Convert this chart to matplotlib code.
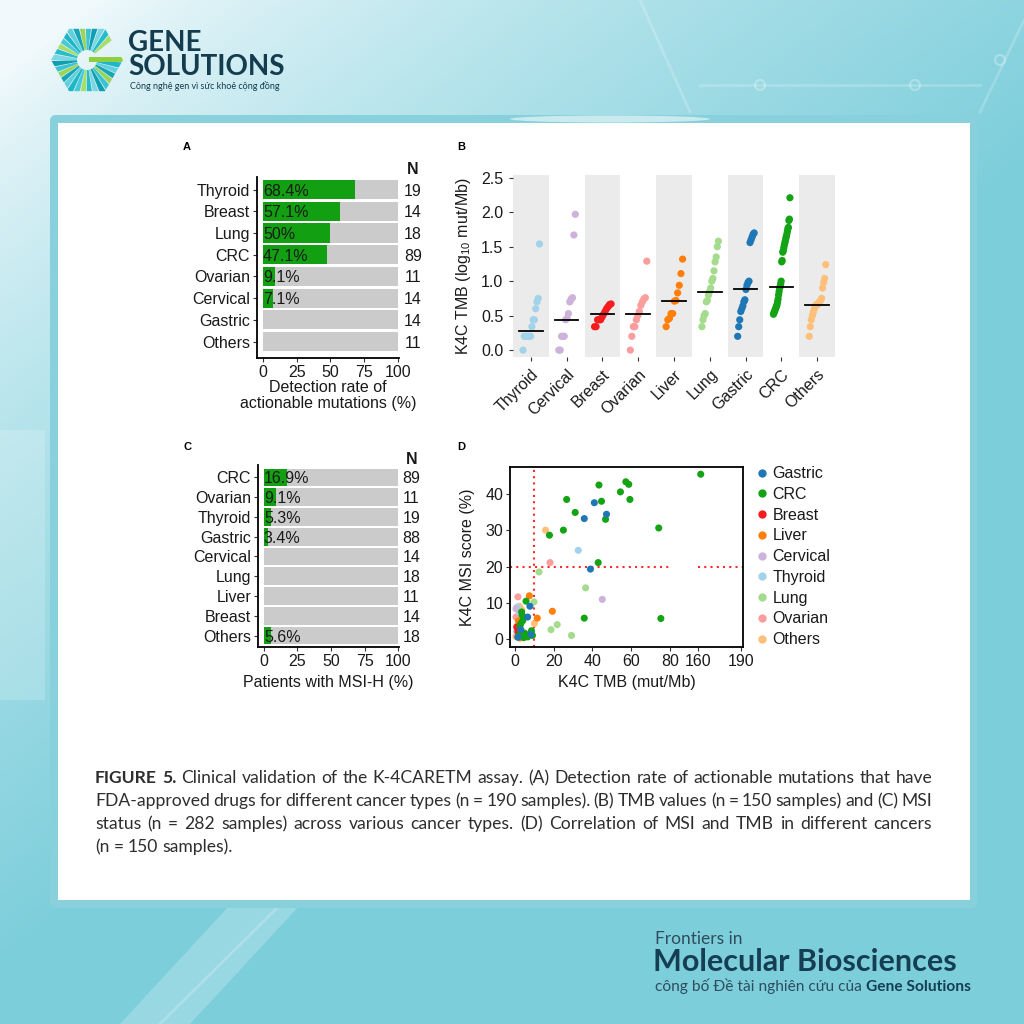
import numpy as np
import matplotlib.pyplot as plt
from matplotlib.patches import Rectangle, Polygon, Wedge, Ellipse, FancyBboxPatch
from matplotlib.lines import Line2D

plt.rcParams['font.family'] = ['Liberation Sans', 'DejaVu Sans']
plt.rcParams['mathtext.default'] = 'regular'

W = H = 1024

# ---------------- data ----------------
# A: detection rate of actionable mutations
a_types = ['Thyroid', 'Breast', 'Lung', 'CRC', 'Ovarian', 'Cervical', 'Gastric', 'Others']
a_rate = [68.4, 57.1, 50, 47.1, 9.1, 7.1, 0, 0]
a_n = [19, 14, 18, 89, 11, 14, 14, 11]

# C: patients with MSI-H
c_types = ['CRC', 'Ovarian', 'Thyroid', 'Gastric', 'Cervical', 'Lung', 'Liver', 'Breast', 'Others']
c_rate = [16.9, 9.1, 5.3, 3.4, 0, 0, 0, 0, 5.6]
c_n = [89, 11, 19, 88, 14, 18, 11, 14, 18]

# B: TMB (log10 mut/Mb) per cancer type
b_types = ['Thyroid', 'Cervical', 'Breast', 'Ovarian', 'Liver', 'Lung', 'Gastric', 'CRC', 'Others']
tmb_thyroid = [0.0, 0.2, 0.2, 0.2, 0.2, 0.2, 0.2, 0.34, 0.44, 0.44, 0.6, 0.7, 0.75, 1.54]
tmb_cervical = [0.0, 0.0, 0.2, 0.2, 0.2, 0.44, 0.46, 0.53, 0.7, 0.74, 0.76, 1.67, 1.97]
tmb_breast = [0.34, 0.34, 0.44, 0.44, 0.44, 0.48, 0.52, 0.56, 0.6, 0.63, 0.66, 0.67]
tmb_ovarian = [0.0, 0.2, 0.34, 0.34, 0.44, 0.5, 0.56, 0.65, 0.7, 0.74, 0.76, 1.29]
tmb_liver = [0.34, 0.44, 0.46, 0.53, 0.53, 0.71, 0.72, 0.83, 0.94, 1.11, 1.32]
tmb_lung = [0.34, 0.44, 0.5, 0.53, 0.7, 0.72, 0.8, 0.85, 0.9, 1.0, 1.04, 1.15, 1.28, 1.35, 1.5, 1.58]
tmb_gastric = [0.2, 0.34, 0.44, 0.56, 0.6, 0.64, 0.7, 0.73, 0.88, 0.94, 0.98, 1.0,
               1.56, 1.6, 1.64, 1.68, 1.7]
tmb_crc = [0.52, 0.54, 0.56, 0.58, 0.6, 0.62, 0.64, 0.66, 0.7, 0.74, 0.8, 0.85, 0.9, 0.92,
           0.96, 1.0, 1.28, 1.3, 1.42, 1.44, 1.48, 1.52, 1.55, 1.58, 1.62, 1.65, 1.68,
           1.72, 1.76, 1.78, 1.88, 1.9, 2.21]
tmb_others = [0.2, 0.34, 0.44, 0.5, 0.55, 0.6, 0.64, 0.66, 0.66, 0.68, 0.7, 0.72, 0.75,
              0.9, 0.98, 1.04, 1.24]
b_median = [0.27, 0.44, 0.52, 0.53, 0.71, 0.84, 0.88, 0.91, 0.65]

# D: MSI score vs TMB
gastric_tmb = [41.0, 35.8, 47.3, 39.0, 7.7, 6.5, 8.2, 1.5, 3.0]
gastric_msi = [37.7, 33.3, 34.5, 19.3, 9.0, 6.0, 1.2, 0.4, 2.5]
crc_tmb = [161.9, 57.3, 58.8, 43.4, 54.5, 26.7, 44.7, 59.4, 31.1, 46.8, 25.0, 17.8, 74.3,
           43.0, 35.8, 75.4, 5.7, 3.4, 3.7, 4.0, 2.5, 3.0, 5.0, 6.5, 8.5, 2.0, 4.5, 7.0, 3.0, 9.0]
crc_msi = [45.6, 43.5, 42.8, 42.6, 40.7, 38.6, 38.1, 38.6, 35.0, 33.1, 30.1, 28.7, 30.7,
           21.1, 5.7, 5.6, 10.4, 7.4, 6.5, 5.0, 3.5, 2.0, 1.5, 0.5, 2.2, 0.8, 0.3, 1.0, 4.2, 0.9]
breast_tmb = [0.9, 1.5, 2.2]
breast_msi = [3.2, 2.0, 1.0]
liver_tmb = [7.4, 19.3, 11.5, 1.7, 3.4, 1.4, 4.0, 2.5]
liver_msi = [11.9, 7.6, 5.7, 4.9, 1.9, 0.5, 1.2, 0.2]
cervical_tmb = [45.1, 0.5, 1.2]
cervical_msi = [10.9, 8.3, 0.8]
thyroid_tmb = [32.7, 1.2, 2.0, 0.8]
thyroid_msi = [24.5, 8.8, 7.5, 2.0]
lung_tmb = [12.4, 36.5, 18.6, 21.8, 29.2, 9.8, 3.5, 5.0]
lung_msi = [18.5, 14.1, 2.5, 3.9, 0.9, 10.2, 5.2, 1.5]
ovarian_tmb = [18.1, 1.5, 0.5, 1.0, 2.0]
ovarian_msi = [21.1, 11.6, 6.0, 3.5, 1.0]
others_tmb = [15.8, 10.0, 2.3, 3.5, 0.5]
others_msi = [30.1, 4.2, 9.0, 8.0, 0.6]

col = {'Thyroid': '#a3d3ea', 'Cervical': '#cdb2d9', 'Breast': '#f41c1c', 'Ovarian': '#fb9d9c',
       'Liver': '#ff7f0a', 'Lung': '#a4db8c', 'Gastric': '#1f77b6', 'CRC': '#14a314',
       'Others': '#fdc07a'}
GREEN = '#12a012'
GREY = '#cbcbcb'
TXT = '#1a1a1a'
FS = 11.5

fig = plt.figure(figsize=(W / 100, H / 100), dpi=100)


def px_axes(x0, y0, x1, y1, **kw):
    return fig.add_axes([x0 / W, 1 - y1 / H, (x1 - x0) / W, (y1 - y0) / H], **kw)


# ---------------- background ----------------
bg = px_axes(0, 0, W, H)
bg.set_xlim(0, W)
bg.set_ylim(H, 0)
bg.axis('off')
yy, xx = np.mgrid[0:1:256j, 0:1:256j]
t = np.clip(0.9 * xx + 1.15 * yy - 0.08, 0, 1) ** 0.75
light = np.array([0.95, 0.98, 0.99])
teal = np.array([0.49, 0.81, 0.86])
img = light * (1 - t[..., None]) + teal * t[..., None]
bg.imshow(img, extent=(0, W, H, 0), aspect='auto', zorder=0)

# faint decorations
for xs_, ys_ in [([700, 760, 980], [85, 85, 85]), ([640, 690], [0, 112]), ([980, 1024], [112, 20]),
                 ([160, 280], [1024, 905])]:
    bg.plot(xs_, ys_, color='white', alpha=0.2, lw=2, zorder=1)
for cx_, cy_ in [(760, 85), (915, 85), (1000, 60)]:
    bg.add_patch(Ellipse((cx_, cy_), 10, 10, fc='none', ec='white', alpha=0.3, lw=1.5, zorder=1))
bg.add_patch(Polygon([(0, 430), (45, 430), (45, 700), (0, 700)], fc='white', alpha=0.18, zorder=1))
bg.add_patch(Polygon([(120, 1024), (230, 905), (300, 905), (190, 1024)], fc='white', alpha=0.22, zorder=1))

# card
bg.add_patch(FancyBboxPatch((50, 115), 927, 793, boxstyle='round,pad=0,rounding_size=6',
                            fc='#88d1dc', ec='none', zorder=2))
bg.add_patch(Rectangle((58, 123), 912, 777, fc='white', ec='none', zorder=3))
bg.add_patch(Ellipse((610, 119), 200, 7, fc='white', alpha=0.55, ec='none', zorder=3))

# logo
cx, cy, R = 87, 60, 36
hexv = [(cx + R * np.cos(np.radians(a)), cy + R * np.sin(np.radians(a))) for a in range(0, 360, 60)]
hexp = Polygon(hexv, closed=True, transform=bg.transData)
stripe_cols = ['#1fb7c8', '#62d0dc', '#16a6b6', '#9bd35b', '#3cc3d0', '#0f9fb0', '#7dd6e2', '#28bccb',
               '#a7dd6a', '#48c9d6']
ang = 4
k = 0
while ang < 322:
    w = Wedge((cx, cy), 48, ang, ang + 9.5, width=48 - 10, fc=stripe_cols[k % len(stripe_cols)],
              ec='none', zorder=4)
    bg.add_patch(w)
    w.set_clip_path(hexp)
    ang += 11
    k += 1
bar = Rectangle((cx + 2, cy - 3), R, 4.5, fc='#8fcf3f', ec='none', zorder=4)
bg.add_patch(bar)
bar.set_clip_path(hexp)
bg.text(128, 75, 'GENE\nSOLUTIONS', fontsize=20, family='Lato', fontweight='bold', color='#133c4e',
        va='baseline', linespacing=0.92, zorder=5)
bg.text(130, 89, 'Công nghệ gen vì sức khoẻ cộng đồng', fontsize=6.5,
        family=['Lato', 'Noto Sans', 'DejaVu Sans'], color='#133c4e', va='baseline', zorder=5)

# footer
bg.text(655, 944, 'Frontiers in', fontsize=12.5, family=['Lato', 'DejaVu Sans'], color='#2f4d5c',
        va='baseline', zorder=5)
bg.text(653, 971, 'Molecular Biosciences', fontsize=22, family=['Lato', 'DejaVu Sans'],
        fontweight='bold', color='#163e53', va='baseline', zorder=5)
renderer = fig.canvas.get_renderer()
t1 = bg.text(655, 991, 'công bố Đề tài nghiên cứu của ', fontsize=11.2,
             family=['Lato', 'Noto Sans', 'DejaVu Sans'], color='#2f4d5c', va='baseline', zorder=5)
w1 = t1.get_window_extent(renderer).width
bg.text(655 + w1, 991, 'Gene Solutions', fontsize=11.2, family=['Lato', 'Noto Sans', 'DejaVu Sans'],
        fontweight='bold', color='#163e53', va='baseline', zorder=5)

# caption (justified)
cap_lines = [
    'FIGURE 5. Clinical validation of the K-4CARETM assay. (A) Detection rate of actionable mutations that have',
    'FDA-approved drugs for different cancer types (n = 190 samples). (B) TMB values (n = 150 samples) and (C) MSI',
    'status (n = 282 samples) across various cancer types. (D) Correlation of MSI and TMB in different cancers',
    '(n = 150 samples).',
]
cap_y = [783, 806, 829, 852]
x_left, x_right = 95, 932
for li, (line, y) in enumerate(zip(cap_lines, cap_y)):
    words = line.split(' ')
    objs = []
    for wi, wd in enumerate(words):
        bold = li == 0 and wi < 2
        objs.append(bg.text(0, y, wd, fontsize=12.6, family=['Lato', 'DejaVu Sans'],
                            fontweight='bold' if bold else 'normal', color='#2e2e2e',
                            va='baseline', zorder=5))
    widths = [o.get_window_extent(renderer).width for o in objs]
    if li < len(cap_lines) - 1:
        gap = (x_right - x_left - sum(widths)) / (len(words) - 1)
    else:
        gap = 4.0
    x = x_left
    for o, wd in zip(objs, widths):
        o.set_x(x)
        x += wd + gap


def style_ticks(ax):
    ax.tick_params(labelsize=FS, labelcolor=TXT, color='#333333', length=3, width=0.8, pad=2)


# ---------------- panel A / C ----------------
def bar_panel(ax, types, rates, ns, ylim, height, nx):
    pos = np.arange(len(types))
    ax.barh(pos, np.full(len(types), 100), height=height, color=GREY, zorder=1)
    ax.barh(pos, rates, height=height, color=GREEN, zorder=2)
    for p, r, n in zip(pos, rates, ns):
        if r > 0:
            ax.text(0, p, f'{r:g}%', ha='left', va='center_baseline', fontsize=FS, color=TXT, zorder=3)
        ax.text(nx, p, str(n), ha='center', va='center_baseline', fontsize=FS, color=TXT, clip_on=False)
    ax.text(nx, -1.0, 'N', ha='center', va='center_baseline', fontsize=FS, fontweight='bold',
            color=TXT, clip_on=False)
    ax.set_yticks(pos, types)
    ax.set_xticks([0, 25, 50, 75, 100])
    ax.set_xlim(-4.4, 100.7)
    ax.set_ylim(*ylim)
    for s in ['top', 'right']:
        ax.spines[s].set_visible(False)
    for s in ['left', 'bottom']:
        ax.spines[s].set_linewidth(1.3)
        ax.spines[s].set_color('black')
    style_ticks(ax)


axA = px_axes(257, 177, 399, 358)
bar_panel(axA, a_types, a_rate, a_n, (7.76, -0.58), 0.88, 111)
axA.set_xlabel('Detection rate of\nactionable mutations (%)', fontsize=FS, color=TXT, labelpad=0,
               linespacing=1.05)

axC = px_axes(258, 465, 399, 647)
bar_panel(axC, c_types, c_rate, c_n, (8.58, -0.63), 0.9, 110)
axC.set_xlabel('Patients with MSI-H (%)', fontsize=FS, color=TXT, labelpad=4)

# ---------------- panel B ----------------
axB = px_axes(513, 175, 835, 357)
b_values = [tmb_thyroid, tmb_cervical, tmb_breast, tmb_ovarian, tmb_liver, tmb_lung,
            tmb_gastric, tmb_crc, tmb_others]
for i, (name, vals) in enumerate(zip(b_types, b_values)):
    if i % 2 == 0:
        axB.axvspan(i - 0.5, i + 0.5, color='#ebebeb', lw=0, zorder=0)
    v = np.sort(vals)
    xs = i + np.linspace(-0.22, 0.24, len(v))
    axB.scatter(xs, v, s=27, color=col[name], edgecolors='none', zorder=3)
    axB.plot([i - 0.33, i + 0.33], [b_median[i]] * 2, color='black', lw=1.3, zorder=4)
axB.set_xlim(-0.5, len(b_types) - 0.5)
axB.set_ylim(-0.1, 2.54)
axB.set_yticks([0, 0.5, 1.0, 1.5, 2.0, 2.5], ['0.0', '0.5', '1.0', '1.5', '2.0', '2.5'])
axB.set_xticks(range(len(b_types)))
axB.set_xticklabels(b_types, rotation=45, ha='right', rotation_mode='anchor')
for s in axB.spines.values():
    s.set_visible(False)
style_ticks(axB)
axB.tick_params(pad=4)
axB.set_ylabel('K4C TMB (log$_{10}$ mut/Mb)', fontsize=FS, color=TXT)
axB.yaxis.set_label_coords(-0.125, 0.5)


# ---------------- panel D ----------------
def fwd(x):
    return np.interp(x, [-100, 80, 160, 400], [-100, 80, 94.6, 94.6 + 240 * 0.746])


def inv(y):
    return np.interp(y, [-100, 80, 94.6, 94.6 + 240 * 0.746], [-100, 80, 160, 400])


axD = px_axes(510, 467, 743, 647)
axD.set_xscale('function', functions=(fwd, inv))
d_order = ['Gastric', 'CRC', 'Breast', 'Liver', 'Cervical', 'Thyroid', 'Lung', 'Ovarian', 'Others']
d_tmb = [gastric_tmb, crc_tmb, breast_tmb, liver_tmb, cervical_tmb, thyroid_tmb, lung_tmb,
         ovarian_tmb, others_tmb]
d_msi = [gastric_msi, crc_msi, breast_msi, liver_msi, cervical_msi, thyroid_msi, lung_msi,
         ovarian_msi, others_msi]
xmin, xmax = -2.6, 191.2
axD.axvline(10, color='#ff2a2a', lw=1.5, ls=(0, (1, 2)), zorder=1)
axD.plot([xmin, 80], [20, 20], color='#ff2a2a', lw=1.5, ls=(0, (1, 2)), zorder=1)
axD.plot([160, xmax], [20, 20], color='#ff2a2a', lw=1.5, ls=(0, (1, 2)), zorder=1)
for name, xs, ys in reversed(list(zip(d_order, d_tmb, d_msi))):
    axD.scatter(xs, ys, s=26, color=col[name], edgecolors='none', zorder=3)
handles = [Line2D([], [], ls='none', marker='o', ms=6, mec='none', mfc=col[name], label=name)
           for name in d_order]
axD.set_xlim(xmin, xmax)
axD.set_ylim(-2.3, 47.6)
axD.set_xticks([0, 20, 40, 60, 80, 160, 190], ['0', '20', '40', '60', '80', '160', '190'])
axD.set_yticks([0, 10, 20, 30, 40])
for s in axD.spines.values():
    s.set_linewidth(1.3)
    s.set_color('black')
style_ticks(axD)
axD.set_xlabel('K4C TMB (mut/Mb)', fontsize=FS, color=TXT, labelpad=4)
axD.set_ylabel('K4C MSI score (%)', fontsize=FS, color=TXT)
axD.yaxis.set_label_coords(-0.15, 0.5)
axD.legend(handles=handles, loc='upper left', bbox_to_anchor=(1.054, 1.005), frameon=False,
           borderaxespad=0, borderpad=0, handlelength=0.8, handletextpad=0.25,
           labelspacing=0.36, fontsize=FS, labelcolor=TXT)

# panel letters
for lab, (x, y) in zip('ABCD', [(187, 147), (461, 147), (187, 447), (461, 447)]):
    bg.text(x, y, lab, fontsize=8, fontweight='bold', ha='center', va='center', color='black', zorder=5)

fig.savefig('out.png', dpi=100)
